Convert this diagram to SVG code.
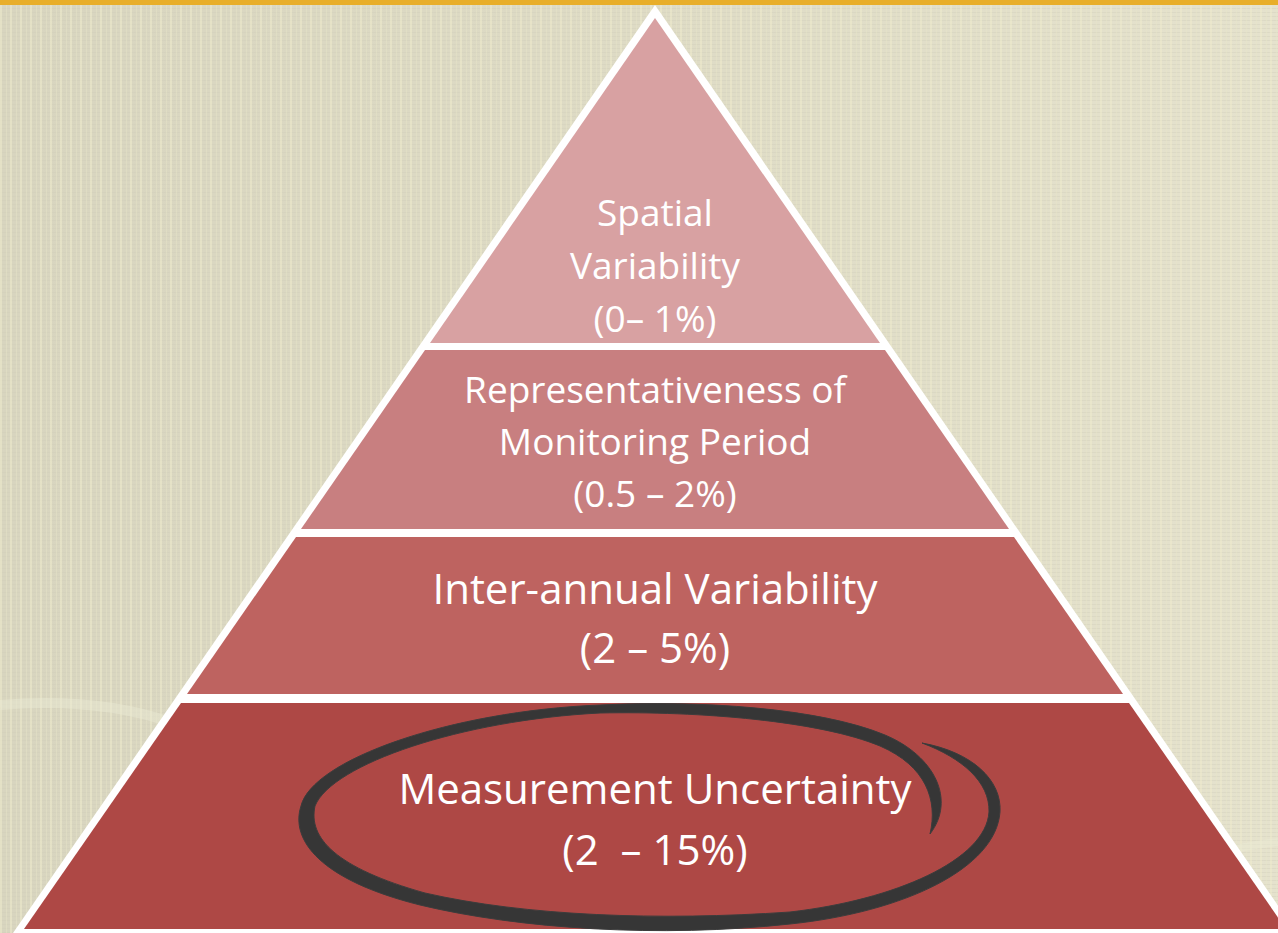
<svg xmlns="http://www.w3.org/2000/svg" width="1278" height="933" viewBox="0 0 1278 933">
  <defs>
    <linearGradient id="bgGrad" x1="0" y1="0" x2="1" y2="0">
      <stop offset="0" stop-color="#D8D5BF"/>
      <stop offset="0.5" stop-color="#DEDBC5"/>
      <stop offset="1" stop-color="#E5E2CD"/>
    </linearGradient>
    <!-- fine woven texture: pale vertical threads over faint horizontal rows -->
    <pattern id="weave" width="10" height="4" patternUnits="userSpaceOnUse">
      <rect x="0" y="0" width="10" height="1" fill="#CFCBB6" opacity="0.35"/>
      <rect x="0" y="0" width="2" height="4" fill="#EEEBCC" opacity="0.55"/>
      <rect x="6" y="0" width="1" height="4" fill="#E9E6C9" opacity="0.4"/>
    </pattern>
    <style>
      .lbl { font-family: "Open Sans", "Liberation Sans", sans-serif; fill: #FFFFFF; text-anchor: middle; }
      .s37 { font-size: 37px; }
      .s42 { font-size: 42px; }
      .ring { fill: #363636; stroke: #3C3C3C; stroke-width: 1; stroke-linejoin: round; }
    </style>
  </defs>

  <!-- background -->
  <rect x="0" y="0" width="1278" height="933" fill="url(#bgGrad)"/>
  <rect x="0" y="0" width="1278" height="933" fill="url(#weave)"/>
  <path d="M0,705 C60,700 120,705 170,722" fill="none" stroke="#ECEAD4" stroke-width="10" opacity="0.45"/>
  <path d="M1278,842 C1250,845 1225,850 1200,858" fill="none" stroke="#ECEAD4" stroke-width="8" opacity="0.45"/>
  <rect x="0" y="0" width="1278" height="5" fill="#E8AE2A"/>

  <!-- white frame of the pyramid -->
  <polygon points="655,5 1297,933 13,933" fill="#FFFFFF"/>

  <g id="tier-spatial">
    <polygon points="655,18 880,343 430,343" fill="#D8A1A2"/>
    <text class="lbl s37" x="655" y="226">Spatial</text>
    <text class="lbl s37" x="655" y="279">Variability</text>
    <text class="lbl s37" x="655" y="332">(0– 1%)</text>
  </g>

  <g id="tier-representativeness">
    <polygon points="425,350 885,350 1009,529 301,529" fill="#C87F80"/>
    <text class="lbl s37" x="655" y="403">Representativeness of</text>
    <text class="lbl s37" x="655" y="455">Monitoring Period</text>
    <text class="lbl s37" x="655" y="507">(0.5 – 2%)</text>
  </g>

  <g id="tier-interannual">
    <polygon points="296,537 1014,537 1123,694 187,694" fill="#BE6360"/>
    <text class="lbl s42" x="655" y="604">Inter-annual Variability</text>
    <text class="lbl s42" x="655" y="663">(2 – 5%)</text>
  </g>

  <g id="tier-measurement">
    <polygon points="181,703 1129,703 1286,929 24,929" fill="#AE4845"/>
    <!-- hand-drawn loop around the label: one brush stroke of varying width, ending in an inner hook -->
    <path class="ring" d="M922,743
      C972,752 1002,780 1000,812
      C996,868 905,912 790,924
      C660,938 520,929 420,905
      C320,880 290,840 301,806
      C312,760 450,711 600,705
      C700,700 820,708 885,735
      C935,756 956,800 930,834
      C938,800 926,766 880,746
      C820,721 700,711 600,713
      C462,720 332,764 315,806
      C308,838 336,868 425,893
      C525,916 660,921 790,912
      C895,900 986,860 989,812
      C990,782 962,758 922,743 Z"/>
    <text class="lbl s42" x="655" y="804">Measurement Uncertainty</text>
    <text class="lbl s42" x="655" y="865">(2&#160; – 15%)</text>
  </g>
</svg>
